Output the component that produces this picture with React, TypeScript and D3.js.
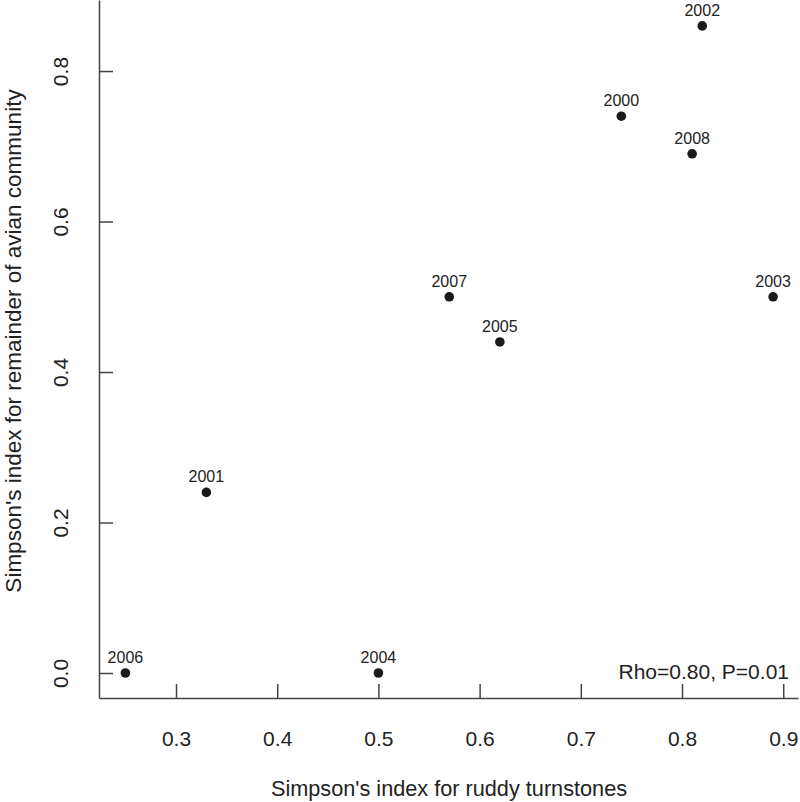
import * as d3 from "d3"
import { useRef, useEffect } from "react"

const years = ["2000", "2001", "2002", "2003", "2004", "2005", "2006", "2007", "2008"]
const turnstones = [0.74, 0.33, 0.82, 0.89, 0.5, 0.62, 0.25, 0.57, 0.81]
const community = [0.74, 0.24, 0.86, 0.5, 0.0, 0.44, 0.0, 0.5, 0.69]
const xTicks = [0.3, 0.4, 0.5, 0.6, 0.7, 0.8, 0.9]
const yTicks = [0.0, 0.2, 0.4, 0.6, 0.8]
const statText = "Rho=0.80, P=0.01"

const App = () => {
  const svgRef = useRef<SVGSVGElement>(null)
  const width = 800
  const height = 802
  const left = 99
  const bottom = 698
  const font = "'Liberation Sans', Arial, sans-serif"
  const ink = "#222"

  useEffect(() => {
    document.body.style.margin = "0"
    const svg = d3.select(svgRef.current)
    svg.selectAll("*").remove()

    const x = d3.scaleLinear().domain([0.2239, 0.9146]).range([left, 798])
    const y = d3.scaleLinear().domain([-0.0332, 0.8944]).range([bottom, 0])

    // x axis, ticks pointing inward
    const gx = svg
      .append("g")
      .attr("transform", `translate(0, ${bottom})`)
      .call(
        d3
          .axisBottom(x)
          .tickValues(xTicks)
          .tickSizeInner(-14)
          .tickSizeOuter(0)
          .tickPadding(33)
          .tickFormat(d3.format(".1f"))
      )
    gx.selectAll("path, line").attr("stroke", "#444").attr("stroke-width", 1.5)
    gx.selectAll("text").attr("font-size", 21).attr("font-family", font).attr("fill", ink)

    // y axis
    const gy = svg
      .append("g")
      .attr("transform", `translate(${left}, 0)`)
      .call(
        d3
          .axisLeft(y)
          .tickValues(yTicks)
          .tickSizeInner(-14)
          .tickSizeOuter(0)
          .tickFormat(d3.format(".1f"))
      )
    gy.selectAll("path, line").attr("stroke", "#444").attr("stroke-width", 1.5)
    gy.selectAll("text")
      .attr("font-size", 21)
      .attr("font-family", font)
      .attr("fill", ink)
      .attr("x", null)
      .attr("dy", null)
      .attr("text-anchor", "middle")
      .attr("transform", "translate(-31, 0) rotate(-90)")
    gy.attr("font-family", null)
    gx.attr("font-family", null)

    // points
    const pts = years.map((yr, i) => ({ yr, xv: turnstones[i], yv: community[i] }))
    svg
      .append("g")
      .selectAll("circle")
      .data(pts)
      .join("circle")
      .attr("cx", (d) => x(d.xv))
      .attr("cy", (d) => y(d.yv))
      .attr("r", 4.8)
      .attr("fill", "#1a1a1a")

    svg
      .append("g")
      .selectAll("text")
      .data(pts)
      .join("text")
      .attr("x", (d) => x(d.xv))
      .attr("y", (d) => y(d.yv) - 10)
      .attr("text-anchor", "middle")
      .attr("font-size", 16)
      .attr("font-family", font)
      .attr("fill", ink)
      .text((d) => d.yr)

    // stat annotation
    svg
      .append("text")
      .attr("x", 789)
      .attr("y", 679)
      .attr("text-anchor", "end")
      .attr("font-size", 21)
      .attr("font-family", font)
      .attr("fill", ink)
      .text(statText)

    // axis titles
    svg
      .append("text")
      .attr("x", 449)
      .attr("y", 796)
      .attr("text-anchor", "middle")
      .attr("font-size", 21.7)
      .attr("font-family", font)
      .attr("fill", ink)
      .text("Simpson's index for ruddy turnstones")

    svg
      .append("text")
      .attr("transform", `translate(21, 341) rotate(-90)`)
      .attr("text-anchor", "middle")
      .attr("font-size", 22.5)
      .attr("font-family", font)
      .attr("fill", ink)
      .text("Simpson's index for remainder of avian community")
  }, [])

  return (
    <svg
      ref={svgRef}
      width={width}
      height={height}
      style={{ display: "block", background: "#fff" }}
    ></svg>
  )
}

export default App
